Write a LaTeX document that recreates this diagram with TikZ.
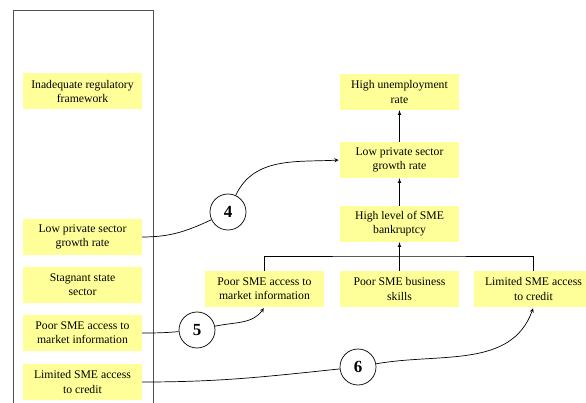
\documentclass[tikz,border=0pt]{standalone}
\usepackage{fontspec}
\setmainfont{Liberation Serif}
\usetikzlibrary{positioning}
\definecolor{boxyellow}{RGB}{255,255,153}
\definecolor{framegray}{RGB}{80,80,80}
\begin{document}
\begin{tikzpicture}[x=0.03cm, y=-0.03cm,
    cause/.style={rectangle, fill=boxyellow, minimum width=3.57cm, minimum height=1.08cm, inner sep=1pt, align=center, font=\fontsize{10}{12}\selectfont},
    num/.style={circle, draw, semithick, fill=white, minimum size=1.08cm, inner sep=0pt, font=\fontsize{14.5}{14.5}\selectfont\bfseries},
    link/.style={-stealth, semithick, shorten >=1pt}]
    \useasboundingbox (0,0) rectangle (586,403);
    \draw [framegray] (13,420) -- (13,10) -- (153,10) -- (153,420);

    % left column
    \node [cause] (inadL) at (82.5,91.5) {Inadequate regulatory\\framework};
    \node [cause] (lowL) at (82.5,237) {Low private sector\\growth rate};
    \node [cause, below of=lowL, node distance=1.44cm] (stagL) {Stagnant state\\sector};
    \node [cause, below of=stagL, node distance=1.44cm] (poorL) {Poor SME access to\\market information};
    \node [cause, below of=poorL, node distance=1.47cm] (limL) {Limited SME access\\to credit};

    % right tree
    \node [cause] (busB) at (399.5,289) {Poor SME business\\skills};
    \node [cause, left of=busB, node distance=4.05cm] (mktB) {Poor SME access to\\market information};
    \node [cause, right of=busB, node distance=4.02cm] (limB) {Limited SME access\\to credit};
    \node [cause, above of=busB, node distance=1.95cm] (highB) {High level of SME\\bankruptcy};
    \node [cause, above of=highB, node distance=1.92cm] (lowR) {Low private sector\\growth rate};
    \node [cause, above of=lowR, node distance=2.04cm] (unempR) {High unemployment\\rate};

    \coordinate (join) at (399.5,256);
    \draw (mktB.north) |- (join) -| (limB.north);
    \draw [-latex] (busB.north) -- (highB.south);
    \draw [-latex] (highB.north) -- (lowR.south);
    \draw [-latex] (lowR.north) -- (unempR.south);

    % numbered links
    \node [num] (c4) at (228,212) {4};
    \node [num] (c5) at (197,330) {5};
    \node [num] (c6) at (358,367) {6};

    \draw [semithick] (lowL.east) to[out=0, in=205] (c4);
    \draw [link] (c4) to[out=65, in=183] (lowR.west);
    \draw [semithick] (poorL.east) to[out=0, in=185] (c5);
    \draw [link] (c5) to[out=12, in=235] (mktB.south);
    \draw [semithick] (limL.east) to[out=0, in=186] (c6);
    \draw [link] (c6) to[out=10, in=250] (limB.south);
\end{tikzpicture}
\end{document}
